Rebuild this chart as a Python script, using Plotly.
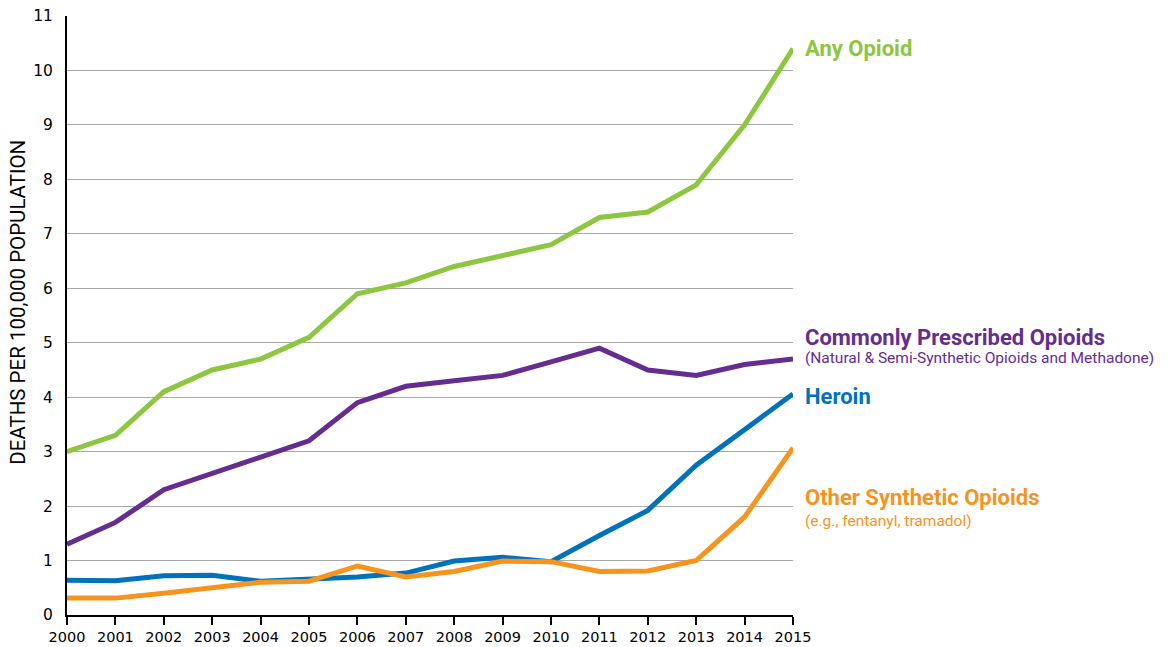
import plotly.graph_objects as go

years = list(range(2000, 2016))
any_opioid = [3.0, 3.3, 4.1, 4.5, 4.7, 5.1, 5.9, 6.1, 6.4, 6.6, 6.8, 7.3, 7.4, 7.9, 9.0, 10.4]
commonly_prescribed = [1.3, 1.7, 2.3, 2.6, 2.9, 3.2, 3.9, 4.2, 4.3, 4.4, 4.65, 4.9, 4.5, 4.4, 4.6, 4.7]
heroin = [0.64, 0.63, 0.72, 0.73, 0.62, 0.66, 0.70, 0.77, 0.99, 1.06, 0.98, 1.46, 1.92, 2.75, 3.41, 4.06]
other_synthetic = [0.31, 0.31, 0.40, 0.51, 0.60, 0.62, 0.90, 0.70, 0.80, 0.99, 0.98, 0.80, 0.81, 1.00, 1.80, 3.07]

y_ticks = list(range(0, 12))
y_title = "DEATHS PER 100,000 POPULATION"

series = [
    ("Any Opioid", any_opioid, "#8dc63f"),
    ("Commonly Prescribed Opioids", commonly_prescribed, "#662d91"),
    ("Heroin", heroin, "#0072bc"),
    ("Other Synthetic Opioids", other_synthetic, "#f7941d"),
]

labels = [
    ("Any Opioid", 10.4, "#8dc63f", 22, True),
    ("Commonly Prescribed Opioids", 5.1, "#662d91", 22, True),
    ("(Natural & Semi-Synthetic Opioids and Methadone)", 4.72, "#662d91", 15.5, False),
    ("Heroin", 4.02, "#0072bc", 22, True),
    ("Other Synthetic Opioids", 2.15, "#f7941d", 22, True),
    ("(e.g., fentanyl, tramadol)", 1.73, "#f7941d", 15.5, False),
]

LABEL_FONT = "Liberation Sans Narrow, Roboto, Arial, sans-serif"

fig = go.Figure()
for name, vals, color in series:
    fig.add_trace(go.Scatter(x=years, y=vals, mode="lines", name=name,
                             line=dict(color=color, width=5), showlegend=False,
                             cliponaxis=False))

for text, yv, color, size, bold in labels:
    fig.add_annotation(x=2015, y=yv, xref="x", yref="y", text=(f"<b>{text}</b>" if bold else text),
                       showarrow=False, xanchor="left", yanchor="middle", xshift=10,
                       font=dict(family=LABEL_FONT, size=size, color=color))

# y-axis title as rotated annotation
fig.add_annotation(x=-0.0675, y=0.523, xref="paper", yref="paper", text=y_title,
                   textangle=-90, showarrow=False, xanchor="center", yanchor="middle",
                   font=dict(family=LABEL_FONT, size=20.5, color="black"))

fig.update_layout(
    width=1170, height=647,
    margin=dict(l=67, r=377, t=16, b=32),
    paper_bgcolor="white", plot_bgcolor="white",
    font=dict(family="DejaVu Sans, Verdana, sans-serif", color="black"),
)
fig.update_xaxes(range=[2000, 2015], tickvals=years, ticktext=[str(y) for y in years],
                 showgrid=False, showline=True, linecolor="black", linewidth=2,
                 ticks="outside", ticklen=8, tickwidth=2, tickcolor="black",
                 tickfont=dict(size=14.5), zeroline=False, automargin=False)
fig.update_yaxes(range=[0, 11], tickvals=y_ticks, showgrid=True, gridcolor="#aaaaaa", gridwidth=1,
                 showline=True, linecolor="black", linewidth=2,
                 ticks="outside", ticklen=9, tickcolor="rgba(0,0,0,0)", zeroline=False,
                 tickfont=dict(size=15.5), automargin=False)

fig.write_html("out.html")
